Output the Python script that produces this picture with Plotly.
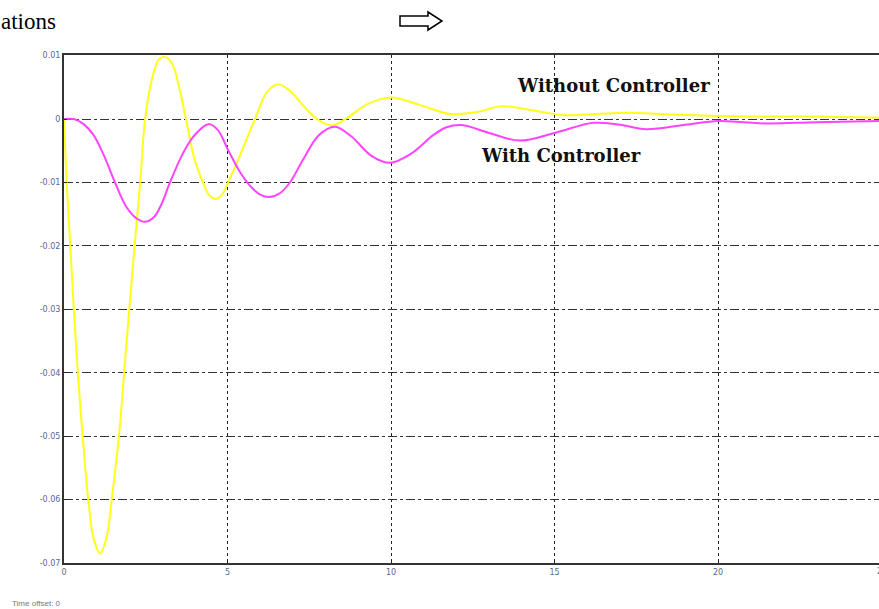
import plotly.graph_objects as go

# ---- data ----
t_without = [0, 0.04, 0.08, 0.18, 0.3, 0.45, 0.57, 0.74, 0.9, 1.1, 1.3, 1.46, 1.68, 1.9, 2.2, 2.33,
             2.48, 2.7, 2.9, 3.09, 3.3, 3.5, 3.73, 4.0, 4.25, 4.45, 4.65, 4.85, 5.02, 5.4, 5.84,
             6.2, 6.55, 6.9, 7.3, 7.74, 8.2, 8.6, 9.3, 10.0, 10.9, 11.8, 12.6, 13.4, 14.4, 15.3,
             16.3, 17.2, 18.6, 20, 21.5, 23, 25]
y_without = [0, -0.005, -0.01, -0.019, -0.03, -0.042, -0.05, -0.06, -0.066, -0.0685, -0.066, -0.06,
             -0.05, -0.036, -0.0175, -0.01, 0, 0.0065, 0.0094, 0.0098, 0.0088, 0.0055, 0, -0.0065,
             -0.01, -0.0121, -0.0126, -0.0118, -0.01, -0.0055, 0, 0.0042, 0.0055, 0.0045, 0.0022,
             0, -0.001, 0, 0.0024, 0.0034, 0.0022, 0.0008, 0.0011, 0.002, 0.0013, 0.0006, 0.0008,
             0.001, 0.0007, 0.0005, 0.0004, 0.0004, 0.0002]

t_with = [0, 0.3, 0.6, 0.9, 1.2, 1.56, 1.9, 2.2, 2.48, 2.76, 3.0, 3.24, 3.6, 3.95, 4.41, 4.7, 5.02,
          5.4, 5.74, 6.0, 6.27, 6.6, 6.91, 7.3, 7.8, 8.29, 8.8, 9.4, 9.97, 10.6, 11.3, 11.7, 12.16,
          13.0, 13.94, 15.0, 16.2, 17.0, 17.8, 19.0, 20, 20.8, 21.5, 23, 25]
y_with = [0, 0, -0.0008, -0.0025, -0.0055, -0.01, -0.0138, -0.0156, -0.0162, -0.0154, -0.0132,
          -0.01, -0.0058, -0.0028, -0.0008, -0.0017, -0.0049, -0.0085, -0.0108, -0.0119, -0.0123,
          -0.0117, -0.01, -0.0065, -0.0025, -0.0012, -0.0028, -0.0058, -0.0069, -0.0055, -0.0025,
          -0.0013, -0.00095, -0.0022, -0.0034, -0.0022, -0.0006, -0.0009, -0.0016, -0.0009,
          -0.0003, -0.0005, -0.0007, -0.0005, -0.0003]

x_ticks = [0, 5, 10, 15, 20]
x_tick_labels = ["0", "5", "10", "15", "20"]
y_ticks = [0.01, 0, -0.01, -0.02, -0.03, -0.04, -0.05, -0.06, -0.07]
y_tick_labels = ["0.01", "0", "-0.01", "-0.02", "-0.03", "-0.04", "-0.05", "-0.06", "-0.07"]

W, H = 879, 609
L, R, T, B = 64, 0, 55, 46
PW, PH = W - L - R, H - T - B


def px(x):
    return (x - L) / PW


def py(y):
    return (H - B - y) / PH


fig = go.Figure()
fig.add_trace(go.Scatter(x=t_without, y=y_without, mode="lines",
                         line=dict(color="#ffff1a", width=2, shape="spline", smoothing=1.0),
                         name="Without Controller", showlegend=False))
fig.add_trace(go.Scatter(x=t_with, y=y_with, mode="lines",
                         line=dict(color="#ff44ff", width=2, shape="spline", smoothing=1.0),
                         name="With Controller", showlegend=False))

tickfont = dict(family="DejaVu Sans", size=8, color="#5a6890")

fig.update_layout(
    width=W, height=H,
    margin=dict(l=L, r=R, t=T, b=B, pad=0),
    paper_bgcolor="white", plot_bgcolor="white",
    xaxis=dict(range=[0, PW / 32.7], tickvals=x_ticks, ticktext=x_tick_labels,
               showgrid=True, gridcolor="#222222", gridwidth=1, griddash="dot",
               zeroline=False, showline=True, linecolor="#333333", linewidth=2, mirror=True,
               ticks="inside", ticklen=4, tickcolor="#222222", tickfont=tickfont),
    yaxis=dict(range=[-0.07, 0.0101], tickvals=y_ticks, ticktext=y_tick_labels,
               showgrid=True, gridcolor="#333333", gridwidth=1, griddash="dashdot",
               zeroline=False, showline=True, linecolor="#333333", linewidth=2, mirror=False,
               ticks="inside", ticklen=3, tickcolor="#222222", tickfont=tickfont),
)

serif_bold = dict(family="DejaVu Serif", size=18, color="#111111", weight="bold")
fig.add_annotation(x=px(613), y=py(85), xref="paper", yref="paper", text="Without Controller",
                   showarrow=False, xanchor="center", yanchor="middle", font=serif_bold)
fig.add_annotation(x=px(561), y=py(155), xref="paper", yref="paper", text="With Controller",
                   showarrow=False, xanchor="center", yanchor="middle", font=serif_bold)
fig.add_annotation(x=px(-1), y=py(22), xref="paper", yref="paper", text="ations",
                   showarrow=False, xanchor="left", yanchor="middle",
                   font=dict(family="Liberation Serif, Times New Roman", size=23, color="#000000"))
fig.add_annotation(x=px(881.5), y=py(565), xref="paper", yref="paper", text="25", showarrow=False,
                   xanchor="center", yanchor="top", font=tickfont)
fig.add_annotation(x=px(10), y=py(597), xref="paper", yref="paper", text="Time offset: 0",
                   showarrow=False, xanchor="left", yanchor="top",
                   font=dict(family="Liberation Sans, Arial", size=8, color="#777777"))

# hollow arrow symbol at top
pts = [(400, 16), (428, 16), (428, 12), (442, 21), (428, 30), (428, 26), (400, 26)]
path = "M " + " L ".join(f"{px(a):.5f},{py(b):.5f}" for a, b in pts) + " Z"
fig.add_shape(type="path", path=path, xref="paper", yref="paper",
              line=dict(color="black", width=1.5), fillcolor="white")

fig.write_html("out.html", config={"displayModeBar": False},
               post_script="document.body.style.margin='0px';")
